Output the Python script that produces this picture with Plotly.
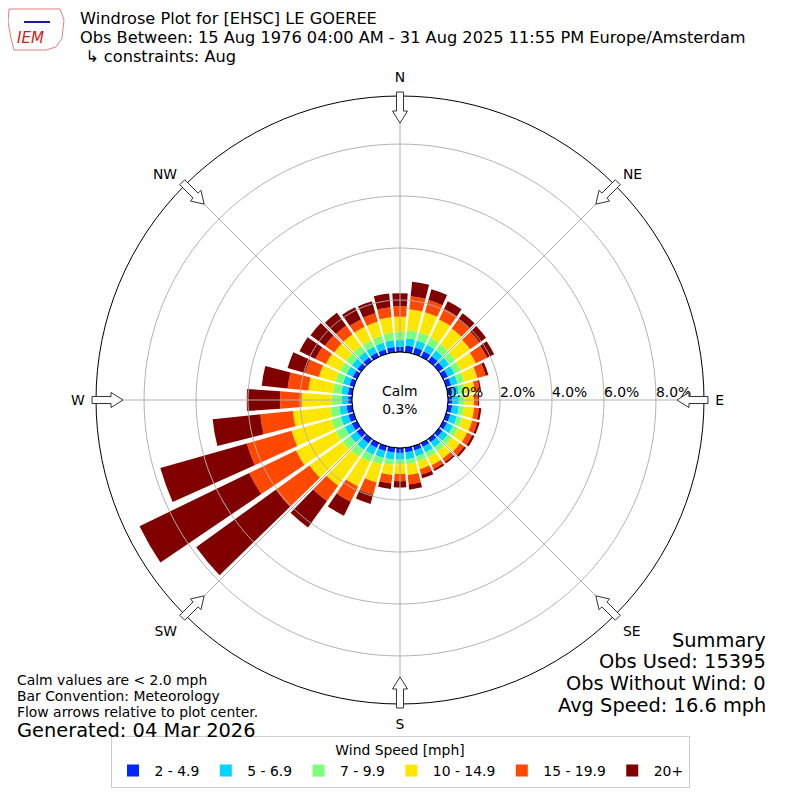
import numpy as np
import plotly.graph_objects as go

# wind direction bins (degrees, direction wind blows from)
directions = [0, 10, 20, 30, 40, 50, 60, 70, 80, 90, 100, 110,
              120, 130, 140, 150, 160, 170, 180, 190, 200, 210, 220, 230,
              240, 250, 260, 270, 280, 290, 300, 310, 320, 330, 340, 350]

speed_bins = ['2 - 4.9', '5 - 6.9', '7 - 9.9', '10 - 14.9', '15 - 19.9', '20+']
bin_colors = ['#0028ff', '#00d4ff', '#7cff79', '#ffe600', '#ff4800', '#800000']

# frequency (%) per speed bin, one value per direction
pct_2_5 = [0.20, 0.26, 0.25, 0.24, 0.23, 0.22, 0.21, 0.20, 0.18, 0.17, 0.17, 0.17,
           0.17, 0.17, 0.16, 0.16, 0.17, 0.18, 0.19, 0.19, 0.20, 0.21, 0.22, 0.22,
           0.22, 0.22, 0.22, 0.15, 0.17, 0.18, 0.18, 0.18, 0.18, 0.18, 0.18, 0.20]
pct_5_7 = [0.26, 0.28, 0.28, 0.28, 0.27, 0.27, 0.27, 0.26, 0.25, 0.25, 0.26, 0.26,
           0.26, 0.25, 0.24, 0.24, 0.24, 0.26, 0.26, 0.26, 0.27, 0.29, 0.30, 0.30,
           0.30, 0.30, 0.28, 0.25, 0.25, 0.26, 0.26, 0.26, 0.26, 0.26, 0.26, 0.26]
pct_7_10 = [0.32, 0.32, 0.32, 0.31, 0.30, 0.29, 0.28, 0.26, 0.23, 0.21, 0.20, 0.21,
            0.21, 0.20, 0.20, 0.20, 0.20, 0.20, 0.18, 0.21, 0.27, 0.30, 0.33, 0.36,
            0.38, 0.38, 0.35, 0.38, 0.33, 0.30, 0.28, 0.28, 0.28, 0.26, 0.28, 0.30]
pct_10_15 = [0.58, 0.80, 0.81, 0.77, 0.75, 0.70, 0.64, 0.53, 0.39, 0.37, 0.39, 0.40,
             0.39, 0.38, 0.34, 0.34, 0.31, 0.41, 0.37, 0.39, 0.71, 1.05, 1.37, 1.57,
             1.70, 1.59, 1.45, 1.16, 0.95, 0.66, 0.60, 0.56, 0.56, 0.58, 0.56, 0.59]
pct_15_20 = [0.41, 0.51, 0.49, 0.45, 0.43, 0.45, 0.48, 0.33, 0.19, 0.16, 0.19, 0.21,
             0.21, 0.20, 0.16, 0.17, 0.22, 0.37, 0.28, 0.33, 0.50, 0.65, 0.73, 1.60,
             2.00, 1.79, 1.26, 0.83, 0.80, 0.55, 0.45, 0.44, 0.41, 0.32, 0.34, 0.39]
pct_20_up = [0.49, 0.56, 0.43, 0.32, 0.29, 0.31, 0.30, 0.11, 0.05, 0.04, 0.09, 0.09,
             0.10, 0.09, 0.07, 0.08, 0.14, 0.20, 0.24, 0.22, 0.36, 0.60, 1.25, 3.78,
             4.69, 3.46, 1.84, 1.28, 1.00, 0.70, 0.68, 0.68, 0.61, 0.52, 0.48, 0.53]

radial_ticks = [0, 2, 4, 6, 8]
radial_labels = ['0.0%', '2.0%', '4.0%', '6.0%', '8.0%']
compass_angles = [0, 45, 90, 135, 180, 225, 270, 315]
compass_labels = ['N', 'NE', 'E', 'SE', 'S', 'SW', 'W', 'NW']
r_max = 9.85

title_lines = ['Windrose Plot for [EHSC] LE GOEREE',
               'Obs Between: 15 Aug 1976 04:00 AM - 31 Aug 2025 11:55 PM Europe/Amsterdam',
               ' ↳ constraints: Aug']

font = 'DejaVu Sans'
grid_gray = '#b0b0b0'
OFF = 8  # the page body margin shifts the figure by 8px

fig = go.Figure()

series = [pct_2_5, pct_5_7, pct_7_10, pct_10_15, pct_15_20, pct_20_up]
for name, color, values in zip(speed_bins, bin_colors, series):
    fig.add_trace(go.Barpolar(r=values, theta=directions, name=name, width=8.3,
                              marker=dict(color=color, line=dict(width=0))))

# grid drawn on top of the bars, like the matplotlib original
ring = np.linspace(0, 360, 361)
for rv in radial_ticks[1:]:
    fig.add_trace(go.Scatterpolar(r=[rv] * len(ring), theta=ring, mode='lines',
                                  line=dict(color=grid_gray, width=1),
                                  showlegend=False, hoverinfo='skip'))
for a in compass_angles:
    fig.add_trace(go.Scatterpolar(r=[0, r_max], theta=[a, a], mode='lines',
                                  line=dict(color=grid_gray, width=1),
                                  showlegend=False, hoverinfo='skip'))
# calm circle
fig.add_trace(go.Scatterpolar(r=[0] * len(ring), theta=ring, mode='lines',
                              line=dict(color='black', width=1),
                              showlegend=False, hoverinfo='skip'))

# radial labels sit just outside each ring, as matplotlib puts them
label_pos = [v + 0.68 for v in radial_ticks]

fig.update_layout(
    width=800, height=800,
    margin=dict(l=0, r=0, t=0, b=0),
    paper_bgcolor='white',
    font=dict(family=font, size=13.9, color='black'),
    polar=dict(
        domain=dict(x=[(96 - OFF) / 800, (704 - OFF) / 800],
                    y=[1 - (704 - OFF) / 800, 1 - (96 - OFF) / 800]),
        hole=48 / 304,
        bgcolor='white',
        barmode='stack',
        angularaxis=dict(rotation=90, direction='clockwise',
                         tickmode='array', tickvals=compass_angles, ticktext=compass_labels,
                         ticks='outside', ticklen=8, tickcolor='rgba(0,0,0,0)',
                         showgrid=False,
                         showline=True, linecolor='black', linewidth=1,
                         tickfont=dict(size=13.9)),
        radialaxis=dict(range=[0, r_max], angle=0, side='counterclockwise', tickangle=0,
                        tickmode='array', tickvals=label_pos, ticktext=radial_labels,
                        showline=False, ticks='', showgrid=False,
                        tickfont=dict(size=13.9)),
    ),
    legend=dict(orientation='h', x=(400 - OFF) / 800, xanchor='center',
                y=1 - (788 - OFF) / 800, yanchor='bottom', itemwidth=33,
                title=dict(text='Wind Speed [mph]', side='top center', font=dict(size=13.9)),
                bordercolor='#cccccc', borderwidth=1, font=dict(size=13.9)),
)


def to_paper(px, py):
    return (px - OFF) / 800, 1 - (py - OFF) / 800


# hollow flow arrows on the rim, pointing to the center
cx, cy = 400, 400
shape_pts = [(0, -3.5), (19, -3.5), (19, -7.5), (31, 0), (19, 7.5), (19, 3.5), (0, 3.5)]
for a in compass_angles:
    t = np.radians(a)
    tail = (cx + 308 * np.sin(t), cy - 308 * np.cos(t))
    u = (-np.sin(t), np.cos(t))
    v = (np.cos(t), np.sin(t))
    pts = []
    for s, w in shape_pts:
        x, y = to_paper(tail[0] + s * u[0] + w * v[0], tail[1] + s * u[1] + w * v[1])
        pts.append('%.4f,%.4f' % (x, y))
    fig.add_shape(type='path', xref='paper', yref='paper',
                  path='M ' + ' L '.join(pts) + ' Z',
                  fillcolor='white', line=dict(color='#333333', width=1))


def note(px, py, text, size, anchor='left', color='black'):
    x, y = to_paper(px, py)
    fig.add_annotation(x=x, y=y, xref='paper', yref='paper',
                       text=text, showarrow=False, xanchor=anchor, yanchor='middle',
                       align=anchor, font=dict(family=font, size=size, color=color))


# title block: three lines, glyphs a bit bigger than the line pitch font
title_html = '<br>'.join('<span style="font-size:16.2px">%s</span>' % s for s in title_lines)
note(78, 37, title_html, 14.6)

note(400, 400, 'Calm<br>0.3%', 13.9, 'center')

note(15, 680, 'Calm values are < 2.0 mph', 13.9)
note(15, 696, 'Bar Convention: Meteorology', 13.9)
note(15, 712, 'Flow arrows relative to plot center.', 13.9)
note(15, 730, 'Generated: 04 Mar 2026', 19.4)

note(768, 640, 'Summary', 19.4, 'right')
note(768, 661, 'Obs Used: 15395', 19.4, 'right')
note(768, 683, 'Obs Without Wind: 0', 19.4, 'right')
note(768, 705, 'Avg Speed: 16.6 mph', 19.4, 'right')

# simple IEM logo
logo = [(9, 9), (60, 9), (64, 20), (62, 38), (56, 47), (46, 50), (14, 50), (11, 38), (8, 22)]
logo_path = 'M ' + ' L '.join('%.4f,%.4f' % to_paper(px, py) for px, py in logo) + ' Z'
fig.add_shape(type='path', xref='paper', yref='paper', path=logo_path,
              fillcolor='rgba(0,0,0,0)', line=dict(color='#e08080', width=1))
x0, y0 = to_paper(24, 22)
x1, y1 = to_paper(50, 22)
fig.add_shape(type='line', xref='paper', yref='paper', x0=x0, y0=y0, x1=x1, y1=y1,
              line=dict(color='#1a1aa0', width=2))
note(30, 38, '<i>IEM</i>', 15, 'center', '#d02020')

fig.write_html('out.html')
